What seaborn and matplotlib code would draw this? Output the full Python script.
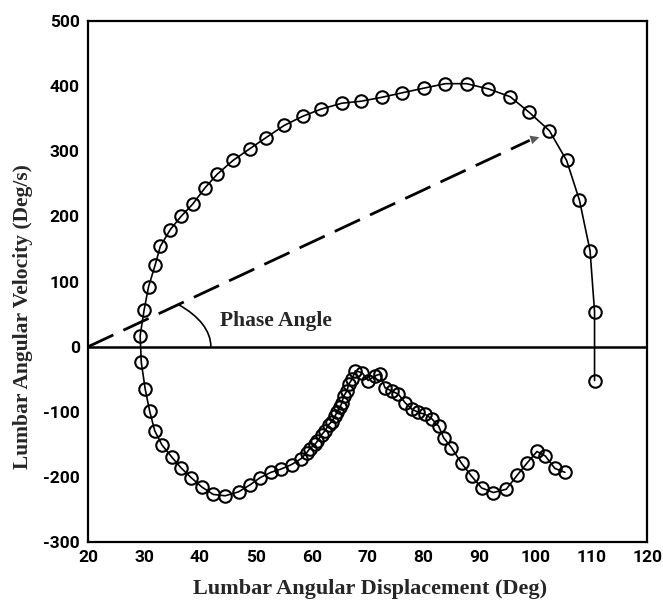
import numpy as np
import pandas as pd
import matplotlib
matplotlib.use("Agg")
import matplotlib.pyplot as plt
from matplotlib.patches import Arc
import seaborn as sns

# displacement (deg) and velocity (deg/s) along the trajectory
displacement = [105.3, 103.5, 101.8, 100.3, 98.6, 96.8, 94.8, 92.5, 90.4, 88.6,
                86.8, 85.0, 83.6, 82.7, 81.5, 80.3, 79.1, 77.9, 76.7, 75.5,
                74.3, 73.1, 72.2, 71.3, 70.1, 69.0, 67.8, 67.2, 66.6, 66.3,
                65.7, 65.4, 65.1, 64.5, 64.2, 63.6, 63.0, 62.4, 61.8, 61.0,
                60.6, 59.6, 59.1, 58.1, 56.4, 54.5, 52.7, 50.8, 49.0, 46.9,
                44.5, 42.4, 40.4, 38.4, 36.6, 35.0, 33.2, 31.9, 31.0, 30.2,
                29.5, 29.3, 30.0, 30.8, 32.0, 32.9, 34.7, 36.6, 38.7, 40.9,
                43.1, 45.9, 48.9, 51.8, 55.1, 58.4, 61.7, 65.4, 68.8, 72.5,
                76.2, 80.0, 83.9, 87.7, 91.6, 95.5, 98.9, 102.5, 105.6, 107.9,
                109.8, 110.6, 110.6]
velocity = [-193, -187, -168, -161, -178, -197, -219, -224, -217, -199,
            -179, -155, -140, -122, -111, -104, -101, -96, -86, -73,
            -68, -63, -42, -45, -52, -40, -37, -50, -58, -68,
            -76, -86, -92, -101, -106, -115, -120, -129, -135, -145,
            -150, -157, -163, -172, -181, -188, -193, -201, -212, -223,
            -229, -227, -216, -201, -186, -170, -151, -129, -99, -65,
            -24, 17, 56, 92, 126, 154, 180, 200, 219, 244,
            265, 286, 304, 321, 340, 354, 365, 374, 377, 383,
            390, 397, 404, 404, 396, 384, 360, 332, 286, 225,
            147, 54, -52]

x_ticks = [20, 30, 40, 50, 60, 70, 80, 90, 100, 110, 120]
y_ticks = [-300, -200, -100, 0, 100, 200, 300, 400, 500]

df = pd.DataFrame({"disp": displacement, "vel": velocity})

sns.set_style("white")
plt.rcParams["font.family"] = ["Roboto", "DejaVu Sans"]
plt.rcParams["axes.unicode_minus"] = False

fig = plt.figure(figsize=(6.63, 6.0), dpi=100)
ax = fig.add_axes([0.133, 0.0967, 0.843, 0.868])

# zero line
ax.axhline(0, color="black", lw=1.8, zorder=1)

sns.lineplot(data=df, x="disp", y="vel", sort=False, estimator=None, ax=ax,
             color="black", lw=1.2, marker="o", markersize=9,
             markerfacecolor="none", markeredgecolor="black",
             markeredgewidth=1.5, zorder=3)

# dashed phase vector with arrow head
ax.plot([20, 99], [0, 317], color="black", lw=2.0, dashes=(10, 4), zorder=2)
ax.annotate("", xy=(101.2, 323), xytext=(97.5, 313),
            arrowprops=dict(arrowstyle="-|>", color="0.35", lw=0,
                            mutation_scale=16), zorder=2)

# phase angle arc
ax.add_patch(Arc((20, 0), 43.9, 190.8, theta1=0, theta2=76,
                 color="black", lw=1.2))
ax.text(43.6, 40, "Phase Angle", family="Liberation Serif",
        fontweight="bold", fontsize=15.5, va="center", ha="left")

ax.set_xlim(20, 120)
ax.set_ylim(-300, 500)
ax.set_xticks(x_ticks)
ax.set_yticks(y_ticks)
ax.tick_params(direction="in", length=4, width=1.2, labelsize=12.5,
               colors="black", pad=6)
for lab in ax.get_xticklabels() + ax.get_yticklabels():
    lab.set_fontweight("bold")
for s in ax.spines.values():
    s.set_linewidth(1.6)
    s.set_color("black")

ax.set_xlabel("")
ax.set_ylabel("")
fig.text(0.558, 0.018, "Lumbar Angular Displacement (Deg)",
         family="Liberation Serif", fontweight="bold", fontsize=16,
         ha="center", va="center")
fig.text(0.035, 0.472, "Lumbar Angular Velocity (Deg/s)",
         family="Liberation Serif", fontweight="bold", fontsize=15.5,
         ha="center", va="center", rotation=90)

fig.savefig("out.png", dpi=100)
